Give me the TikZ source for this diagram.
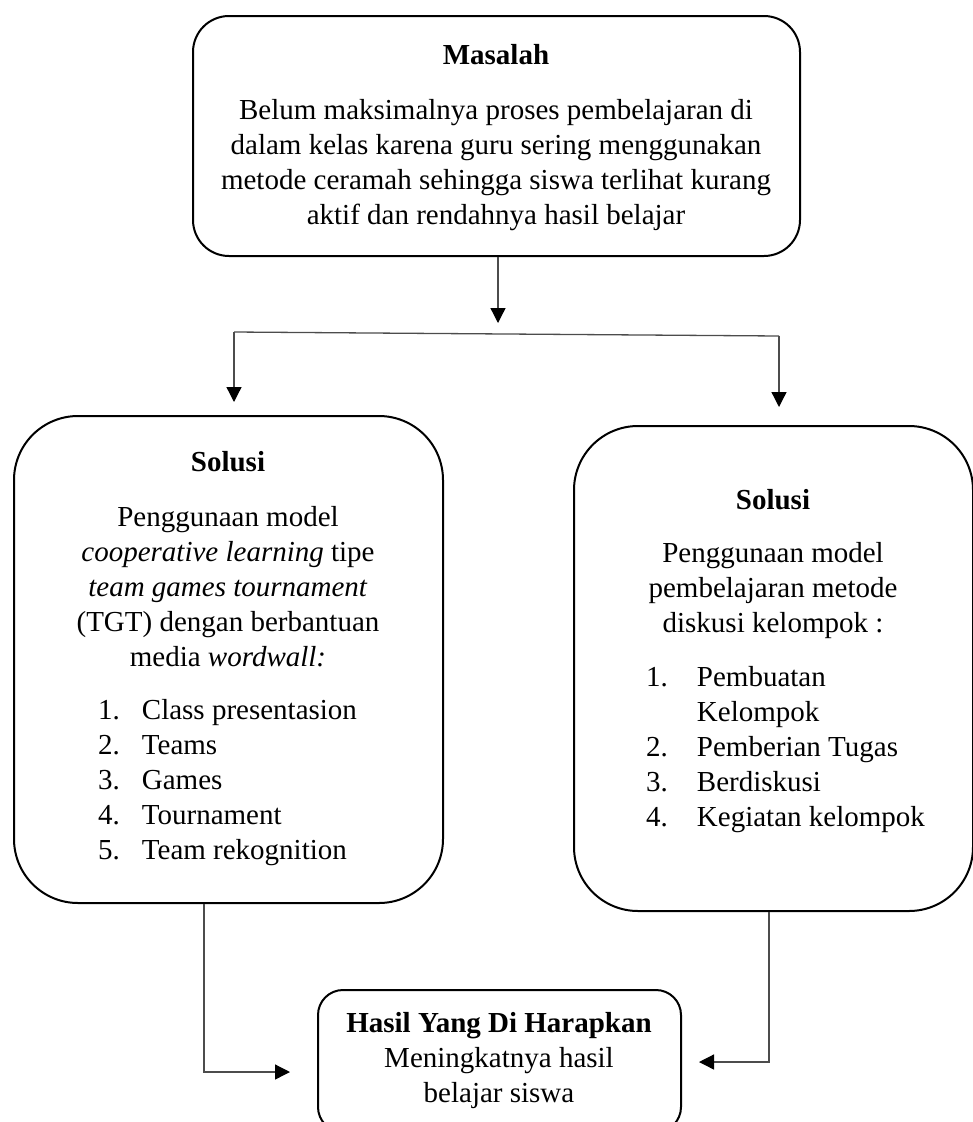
\documentclass[tikz,border=0pt]{standalone}
\usepackage{fontspec}
\setmainfont{Liberation Serif}
\usepackage{tikz}
\usetikzlibrary{arrows.meta,positioning}

\begin{document}
\begin{tikzpicture}[
  x=1pt, y=-1pt,
  font=\fontsize{29}{35}\selectfont,
  >={Triangle[length=15pt,width=15pt,color=black]},
  flowbox/.style={rectangle, draw=black, line width=2pt, inner sep=0pt, anchor=north west},
  boxtext/.style={anchor=base, inner sep=0pt},
  listtext/.style={anchor=base west, inner sep=0pt},
  link/.style={draw=black!70, line width=1.3pt},
]
\useasboundingbox (0,0) rectangle (973,1122);
% boxes
\node[flowbox, rounded corners=36pt, minimum width=607pt, minimum height=240pt] (masalah) at (192,15) {};
\node[flowbox, rounded corners=64pt, minimum width=429pt, minimum height=487pt] (tgt) at (13,415) {};
\node[flowbox, rounded corners=64pt, minimum width=399pt, minimum height=485pt] (diskusi) at (573,425) {};
\node[flowbox, rounded corners=25pt, minimum width=363pt, minimum height=142pt] (hasil) at (317,989) {};
% texts
\node[boxtext] (masalahtxt) at (496,64) {\begin{tabular}[t]{@{}c@{}}\textbf{Masalah}\\[20pt]
  Belum maksimalnya proses pembelajaran di\\
  dalam kelas karena guru sering menggunakan\\
  metode ceramah sehingga siswa terlihat kurang\\
  aktif dan rendahnya hasil belajar\end{tabular}};
\node[boxtext] (tgttxt) at (228,471) {\begin{tabular}[t]{@{}c@{}}\textbf{Solusi}\\[20pt]
  Penggunaan model\\
  \textit{cooperative learning} tipe\\
  \textit{team games tournament}\\
  (TGT) dengan berbantuan\\
  media \textit{wordwall:}\end{tabular}};
\node[listtext] (tgtlist) at (98,719) {\begin{tabular}[t]{@{}l@{\hspace{22pt}}l@{}}
  1. & Class presentasion\\
  2. & Teams\\
  3. & Games\\
  4. & Tournament\\
  5. & Team rekognition\end{tabular}};
\node[boxtext] (diskusitxt) at (773,509) {\begin{tabular}[t]{@{}c@{}}\textbf{Solusi}\\[18pt]
  Penggunaan model\\
  pembelajaran metode\\
  diskusi kelompok :\end{tabular}};
\node[listtext] (diskusilist) at (646,686) {\begin{tabular}[t]{@{}l@{\hspace{29pt}}l@{}}
  1. & Pembuatan\\
     & Kelompok\\
  2. & Pemberian Tugas\\
  3. & Berdiskusi\\
  4. & Kegiatan kelompok\end{tabular}};
\node[boxtext] (hasiltxt) at (499,1032) {\begin{tabular}[t]{@{}c@{}}\textbf{Hasil Yang Di Harapkan}\\
  Meningkatnya hasil\\
  belajar siswa\end{tabular}};
% connectors
\coordinate (split) at (498,323);
\coordinate (forkL) at (234,332);
\coordinate (forkR) at (779,336);
\coordinate (inL) at (290,1072);
\coordinate (inR) at (699,1062);
\draw[link,->] (split |- masalah.south) -- (split);
\draw[link] (forkL) -- (forkR);
\draw[link,->,shorten >=13pt] (forkL) -- (forkL |- tgt.north);
\draw[link,->,shorten >=18pt] (forkR) -- (forkR |- diskusi.north);
\draw[link,->] ([xshift=-24.5pt]tgt.south) |- (inL);
\draw[link,->] ([xshift=-4.5pt]diskusi.south) |- (inR);
\end{tikzpicture}
\end{document}
